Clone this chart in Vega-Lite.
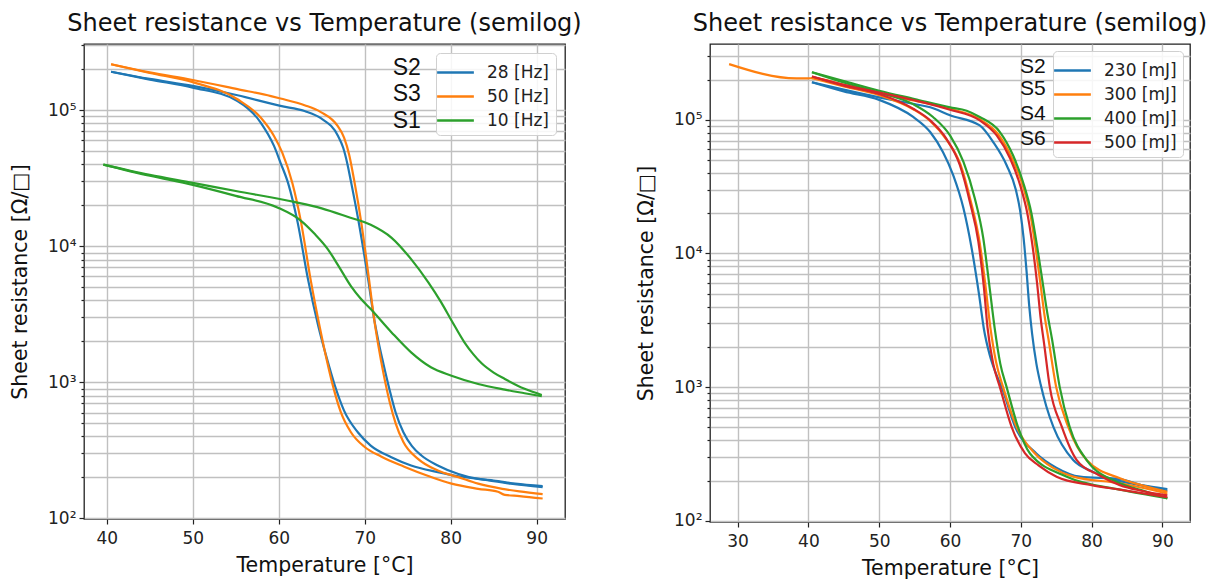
{
  "$schema": "https://vega.github.io/schema/vega-lite/v6.json",
  "padding": {"left": 9, "top": 11, "right": 5, "bottom": 0},
  "bounds": "flush",
  "spacing": 145,
  "config": {
    "font": "DejaVu Sans",
    "view": {"stroke": "#222222", "strokeWidth": 1.3},
    "axis": {"labelFont": "DejaVu Sans", "labelFontSize": 17, "labelColor": "#222222", "titleFont": "DejaVu Sans", "titleFontSize": 20.5, "titleFontWeight": "normal", "titleColor": "#111111", "gridColor": "#c0c0c0", "gridWidth": 1.4, "gridOpacity": 1, "domain": false, "tickColor": "#222222", "tickWidth": 1.2},
    "title": {"fontSize": 24, "fontWeight": "normal", "font": "DejaVu Sans", "color": "#111111", "offset": 8},
    "legend": {"orient": "top-right", "offset": 8, "fillColor": "rgba(255,255,255,0.85)", "strokeColor": "#d0d0d0", "cornerRadius": 4, "padding": 6, "labelFont": "DejaVu Sans", "labelFontSize": 17, "labelColor": "#222222", "symbolType": "M-1.5,0H1.5", "symbolSize": 600, "symbolStrokeWidth": 2.5, "labelOffset": 18, "rowPadding": 2}
  },
  "datasets": {
    "left": [
      {"series": "28 [Hz]", "branch": "A", "temp": 40.5, "rs": 192000},
      {"series": "28 [Hz]", "branch": "A", "temp": 45, "rs": 170000},
      {"series": "28 [Hz]", "branch": "A", "temp": 50, "rs": 151000},
      {"series": "28 [Hz]", "branch": "A", "temp": 55.2, "rs": 129000},
      {"series": "28 [Hz]", "branch": "A", "temp": 60.2, "rs": 107600},
      {"series": "28 [Hz]", "branch": "A", "temp": 63, "rs": 98800},
      {"series": "28 [Hz]", "branch": "A", "temp": 64.9, "rs": 87400},
      {"series": "28 [Hz]", "branch": "A", "temp": 66.9, "rs": 64700},
      {"series": "28 [Hz]", "branch": "A", "temp": 67.5, "rs": 53000},
      {"series": "28 [Hz]", "branch": "A", "temp": 68.0, "rs": 40000},
      {"series": "28 [Hz]", "branch": "A", "temp": 68.4, "rs": 30000},
      {"series": "28 [Hz]", "branch": "A", "temp": 69.3, "rs": 15100},
      {"series": "28 [Hz]", "branch": "A", "temp": 70.4, "rs": 5740},
      {"series": "28 [Hz]", "branch": "A", "temp": 71.1, "rs": 2920},
      {"series": "28 [Hz]", "branch": "A", "temp": 71.6, "rs": 2000},
      {"series": "28 [Hz]", "branch": "A", "temp": 72.2, "rs": 1350},
      {"series": "28 [Hz]", "branch": "A", "temp": 72.9, "rs": 880},
      {"series": "28 [Hz]", "branch": "A", "temp": 73.6, "rs": 600},
      {"series": "28 [Hz]", "branch": "A", "temp": 74.5, "rs": 430},
      {"series": "28 [Hz]", "branch": "A", "temp": 75.5, "rs": 340},
      {"series": "28 [Hz]", "branch": "A", "temp": 76.6, "rs": 290},
      {"series": "28 [Hz]", "branch": "A", "temp": 78.5, "rs": 245},
      {"series": "28 [Hz]", "branch": "A", "temp": 80.9, "rs": 212},
      {"series": "28 [Hz]", "branch": "A", "temp": 83.2, "rs": 195},
      {"series": "28 [Hz]", "branch": "A", "temp": 85, "rs": 190},
      {"series": "28 [Hz]", "branch": "A", "temp": 87.5, "rs": 180},
      {"series": "28 [Hz]", "branch": "A", "temp": 90.7, "rs": 173},
      {"series": "28 [Hz]", "branch": "B", "temp": 40.5, "rs": 192000},
      {"series": "28 [Hz]", "branch": "B", "temp": 45, "rs": 168000},
      {"series": "28 [Hz]", "branch": "B", "temp": 50, "rs": 146800},
      {"series": "28 [Hz]", "branch": "B", "temp": 55.2, "rs": 117000},
      {"series": "28 [Hz]", "branch": "B", "temp": 57.9, "rs": 81300},
      {"series": "28 [Hz]", "branch": "B", "temp": 59.45, "rs": 54700},
      {"series": "28 [Hz]", "branch": "B", "temp": 60.2, "rs": 41300},
      {"series": "28 [Hz]", "branch": "B", "temp": 61.1, "rs": 29000},
      {"series": "28 [Hz]", "branch": "B", "temp": 62.2, "rs": 15000},
      {"series": "28 [Hz]", "branch": "B", "temp": 63.4, "rs": 5740},
      {"series": "28 [Hz]", "branch": "B", "temp": 64.6, "rs": 2600},
      {"series": "28 [Hz]", "branch": "B", "temp": 65.6, "rs": 1500},
      {"series": "28 [Hz]", "branch": "B", "temp": 66.5, "rs": 960},
      {"series": "28 [Hz]", "branch": "B", "temp": 67.6, "rs": 620},
      {"series": "28 [Hz]", "branch": "B", "temp": 69.2, "rs": 430},
      {"series": "28 [Hz]", "branch": "B", "temp": 70.7, "rs": 343},
      {"series": "28 [Hz]", "branch": "B", "temp": 73.1, "rs": 282},
      {"series": "28 [Hz]", "branch": "B", "temp": 75.4, "rs": 245},
      {"series": "28 [Hz]", "branch": "B", "temp": 78.5, "rs": 219},
      {"series": "28 [Hz]", "branch": "B", "temp": 80.9, "rs": 204},
      {"series": "28 [Hz]", "branch": "B", "temp": 83.2, "rs": 195},
      {"series": "28 [Hz]", "branch": "B", "temp": 87, "rs": 180},
      {"series": "28 [Hz]", "branch": "B", "temp": 90.7, "rs": 170},
      {"series": "50 [Hz]", "branch": "A", "temp": 40.5, "rs": 218000},
      {"series": "50 [Hz]", "branch": "A", "temp": 45, "rs": 190000},
      {"series": "50 [Hz]", "branch": "A", "temp": 50, "rs": 167000},
      {"series": "50 [Hz]", "branch": "A", "temp": 55.2, "rs": 143000},
      {"series": "50 [Hz]", "branch": "A", "temp": 59.1, "rs": 127000},
      {"series": "50 [Hz]", "branch": "A", "temp": 60.2, "rs": 122000},
      {"series": "50 [Hz]", "branch": "A", "temp": 63, "rs": 109000},
      {"series": "50 [Hz]", "branch": "A", "temp": 64.9, "rs": 97000},
      {"series": "50 [Hz]", "branch": "A", "temp": 66.85, "rs": 76700},
      {"series": "50 [Hz]", "branch": "A", "temp": 67.6, "rs": 63000},
      {"series": "50 [Hz]", "branch": "A", "temp": 68.2, "rs": 47000},
      {"series": "50 [Hz]", "branch": "A", "temp": 68.8, "rs": 30000},
      {"series": "50 [Hz]", "branch": "A", "temp": 69.6, "rs": 15000},
      {"series": "50 [Hz]", "branch": "A", "temp": 70.5, "rs": 5740},
      {"series": "50 [Hz]", "branch": "A", "temp": 71.1, "rs": 2920},
      {"series": "50 [Hz]", "branch": "A", "temp": 71.6, "rs": 1850},
      {"series": "50 [Hz]", "branch": "A", "temp": 72.2, "rs": 1150},
      {"series": "50 [Hz]", "branch": "A", "temp": 72.9, "rs": 720},
      {"series": "50 [Hz]", "branch": "A", "temp": 73.6, "rs": 500},
      {"series": "50 [Hz]", "branch": "A", "temp": 74.5, "rs": 364},
      {"series": "50 [Hz]", "branch": "A", "temp": 76.2, "rs": 274},
      {"series": "50 [Hz]", "branch": "A", "temp": 78.5, "rs": 225},
      {"series": "50 [Hz]", "branch": "A", "temp": 80.9, "rs": 201},
      {"series": "50 [Hz]", "branch": "A", "temp": 83.2, "rs": 180},
      {"series": "50 [Hz]", "branch": "A", "temp": 86, "rs": 165},
      {"series": "50 [Hz]", "branch": "A", "temp": 88, "rs": 158},
      {"series": "50 [Hz]", "branch": "A", "temp": 90.7, "rs": 151},
      {"series": "50 [Hz]", "branch": "B", "temp": 40.5, "rs": 218000},
      {"series": "50 [Hz]", "branch": "B", "temp": 45, "rs": 188000},
      {"series": "50 [Hz]", "branch": "B", "temp": 50, "rs": 161000},
      {"series": "50 [Hz]", "branch": "B", "temp": 55.2, "rs": 120500},
      {"series": "50 [Hz]", "branch": "B", "temp": 57.9, "rs": 88400},
      {"series": "50 [Hz]", "branch": "B", "temp": 59.45, "rs": 64700},
      {"series": "50 [Hz]", "branch": "B", "temp": 60.4, "rs": 49000},
      {"series": "50 [Hz]", "branch": "B", "temp": 61.6, "rs": 29000},
      {"series": "50 [Hz]", "branch": "B", "temp": 62.6, "rs": 15000},
      {"series": "50 [Hz]", "branch": "B", "temp": 63.7, "rs": 5740},
      {"series": "50 [Hz]", "branch": "B", "temp": 64.8, "rs": 2500},
      {"series": "50 [Hz]", "branch": "B", "temp": 65.6, "rs": 1450},
      {"series": "50 [Hz]", "branch": "B", "temp": 66.3, "rs": 946},
      {"series": "50 [Hz]", "branch": "B", "temp": 67.2, "rs": 610},
      {"series": "50 [Hz]", "branch": "B", "temp": 68.4, "rs": 430},
      {"series": "50 [Hz]", "branch": "B", "temp": 70, "rs": 335},
      {"series": "50 [Hz]", "branch": "B", "temp": 71.9, "rs": 285},
      {"series": "50 [Hz]", "branch": "B", "temp": 74.6, "rs": 240},
      {"series": "50 [Hz]", "branch": "B", "temp": 77.4, "rs": 205},
      {"series": "50 [Hz]", "branch": "B", "temp": 80.1, "rs": 180},
      {"series": "50 [Hz]", "branch": "B", "temp": 83.2, "rs": 165},
      {"series": "50 [Hz]", "branch": "B", "temp": 85.5, "rs": 157},
      {"series": "50 [Hz]", "branch": "B", "temp": 86.3, "rs": 149},
      {"series": "50 [Hz]", "branch": "B", "temp": 88, "rs": 146},
      {"series": "50 [Hz]", "branch": "B", "temp": 90.7, "rs": 140},
      {"series": "10 [Hz]", "branch": "A", "temp": 39.6, "rs": 39900},
      {"series": "10 [Hz]", "branch": "A", "temp": 45, "rs": 33500},
      {"series": "10 [Hz]", "branch": "A", "temp": 50, "rs": 29300},
      {"series": "10 [Hz]", "branch": "A", "temp": 55, "rs": 25500},
      {"series": "10 [Hz]", "branch": "A", "temp": 61.8, "rs": 21200},
      {"series": "10 [Hz]", "branch": "A", "temp": 65, "rs": 19000},
      {"series": "10 [Hz]", "branch": "A", "temp": 68, "rs": 16500},
      {"series": "10 [Hz]", "branch": "A", "temp": 70.7, "rs": 14400},
      {"series": "10 [Hz]", "branch": "A", "temp": 73.1, "rs": 11600},
      {"series": "10 [Hz]", "branch": "A", "temp": 75.4, "rs": 8050},
      {"series": "10 [Hz]", "branch": "A", "temp": 77.4, "rs": 5430},
      {"series": "10 [Hz]", "branch": "A", "temp": 78.9, "rs": 3870},
      {"series": "10 [Hz]", "branch": "A", "temp": 80.1, "rs": 2850},
      {"series": "10 [Hz]", "branch": "A", "temp": 81.6, "rs": 1970},
      {"series": "10 [Hz]", "branch": "A", "temp": 82.6, "rs": 1620},
      {"series": "10 [Hz]", "branch": "A", "temp": 83.6, "rs": 1380},
      {"series": "10 [Hz]", "branch": "A", "temp": 85, "rs": 1180},
      {"series": "10 [Hz]", "branch": "A", "temp": 86.3, "rs": 1060},
      {"series": "10 [Hz]", "branch": "A", "temp": 88.6, "rs": 896},
      {"series": "10 [Hz]", "branch": "A", "temp": 90.6, "rs": 808},
      {"series": "10 [Hz]", "branch": "B", "temp": 39.6, "rs": 39900},
      {"series": "10 [Hz]", "branch": "B", "temp": 45, "rs": 33000},
      {"series": "10 [Hz]", "branch": "B", "temp": 50, "rs": 28300},
      {"series": "10 [Hz]", "branch": "B", "temp": 55, "rs": 23500},
      {"series": "10 [Hz]", "branch": "B", "temp": 59.85, "rs": 19300},
      {"series": "10 [Hz]", "branch": "B", "temp": 62.6, "rs": 15400},
      {"series": "10 [Hz]", "branch": "B", "temp": 64.2, "rs": 12300},
      {"series": "10 [Hz]", "branch": "B", "temp": 65.7, "rs": 9550},
      {"series": "10 [Hz]", "branch": "B", "temp": 67.0, "rs": 7100},
      {"series": "10 [Hz]", "branch": "B", "temp": 68.4, "rs": 5100},
      {"series": "10 [Hz]", "branch": "B", "temp": 69.5, "rs": 4150},
      {"series": "10 [Hz]", "branch": "B", "temp": 70.7, "rs": 3460},
      {"series": "10 [Hz]", "branch": "B", "temp": 73.1, "rs": 2340},
      {"series": "10 [Hz]", "branch": "B", "temp": 75.4, "rs": 1660},
      {"series": "10 [Hz]", "branch": "B", "temp": 77.7, "rs": 1290},
      {"series": "10 [Hz]", "branch": "B", "temp": 80.1, "rs": 1120},
      {"series": "10 [Hz]", "branch": "B", "temp": 83.2, "rs": 973},
      {"series": "10 [Hz]", "branch": "B", "temp": 86.3, "rs": 884},
      {"series": "10 [Hz]", "branch": "B", "temp": 88.6, "rs": 832},
      {"series": "10 [Hz]", "branch": "B", "temp": 90.6, "rs": 790}
    ],
    "right": [
      {"series": "230 [mJ]", "branch": "A", "temp": 40.5, "rs": 191000},
      {"series": "230 [mJ]", "branch": "A", "temp": 45, "rs": 168000},
      {"series": "230 [mJ]", "branch": "A", "temp": 50, "rs": 147000},
      {"series": "230 [mJ]", "branch": "A", "temp": 55, "rs": 131000},
      {"series": "230 [mJ]", "branch": "A", "temp": 57.2, "rs": 124000},
      {"series": "230 [mJ]", "branch": "A", "temp": 60, "rs": 108000},
      {"series": "230 [mJ]", "branch": "A", "temp": 64.2, "rs": 90700},
      {"series": "230 [mJ]", "branch": "A", "temp": 66.1, "rs": 68200},
      {"series": "230 [mJ]", "branch": "A", "temp": 68, "rs": 45700},
      {"series": "230 [mJ]", "branch": "A", "temp": 69.3, "rs": 30000},
      {"series": "230 [mJ]", "branch": "A", "temp": 69.9, "rs": 21000},
      {"series": "230 [mJ]", "branch": "A", "temp": 70.4, "rs": 13000},
      {"series": "230 [mJ]", "branch": "A", "temp": 70.8, "rs": 7500},
      {"series": "230 [mJ]", "branch": "A", "temp": 71.2, "rs": 4000},
      {"series": "230 [mJ]", "branch": "A", "temp": 71.6, "rs": 2500},
      {"series": "230 [mJ]", "branch": "A", "temp": 72.2, "rs": 1500},
      {"series": "230 [mJ]", "branch": "A", "temp": 72.8, "rs": 1050},
      {"series": "230 [mJ]", "branch": "A", "temp": 73.6, "rs": 720},
      {"series": "230 [mJ]", "branch": "A", "temp": 74.6, "rs": 505},
      {"series": "230 [mJ]", "branch": "A", "temp": 77.4, "rs": 285},
      {"series": "230 [mJ]", "branch": "A", "temp": 80, "rs": 235},
      {"series": "230 [mJ]", "branch": "A", "temp": 84, "rs": 198},
      {"series": "230 [mJ]", "branch": "A", "temp": 87, "rs": 185},
      {"series": "230 [mJ]", "branch": "A", "temp": 90.7, "rs": 173},
      {"series": "230 [mJ]", "branch": "B", "temp": 40.5, "rs": 191000},
      {"series": "230 [mJ]", "branch": "B", "temp": 45, "rs": 163000},
      {"series": "230 [mJ]", "branch": "B", "temp": 50, "rs": 141000},
      {"series": "230 [mJ]", "branch": "B", "temp": 54.8, "rs": 105000},
      {"series": "230 [mJ]", "branch": "B", "temp": 57.2, "rs": 81000},
      {"series": "230 [mJ]", "branch": "B", "temp": 59, "rs": 57500},
      {"series": "230 [mJ]", "branch": "B", "temp": 60.45, "rs": 38600},
      {"series": "230 [mJ]", "branch": "B", "temp": 61.9, "rs": 21800},
      {"series": "230 [mJ]", "branch": "B", "temp": 63.05, "rs": 11000},
      {"series": "230 [mJ]", "branch": "B", "temp": 64.1, "rs": 4940},
      {"series": "230 [mJ]", "branch": "B", "temp": 64.8, "rs": 2700},
      {"series": "230 [mJ]", "branch": "B", "temp": 65.6, "rs": 1750},
      {"series": "230 [mJ]", "branch": "B", "temp": 66.4, "rs": 1300},
      {"series": "230 [mJ]", "branch": "B", "temp": 67.3, "rs": 1000},
      {"series": "230 [mJ]", "branch": "B", "temp": 69.2, "rs": 505},
      {"series": "230 [mJ]", "branch": "B", "temp": 72.2, "rs": 319},
      {"series": "230 [mJ]", "branch": "B", "temp": 75, "rs": 250},
      {"series": "230 [mJ]", "branch": "B", "temp": 78.35, "rs": 214},
      {"series": "230 [mJ]", "branch": "B", "temp": 84, "rs": 205},
      {"series": "230 [mJ]", "branch": "B", "temp": 87, "rs": 185},
      {"series": "230 [mJ]", "branch": "B", "temp": 90.7, "rs": 168},
      {"series": "300 [mJ]", "branch": "A", "temp": 28.8, "rs": 261000},
      {"series": "300 [mJ]", "branch": "A", "temp": 38.3, "rs": 204000},
      {"series": "300 [mJ]", "branch": "A", "temp": 40, "rs": 204000},
      {"series": "300 [mJ]", "branch": "A", "temp": 40.5, "rs": 205000},
      {"series": "300 [mJ]", "branch": "A", "temp": 45, "rs": 183000},
      {"series": "300 [mJ]", "branch": "A", "temp": 50, "rs": 158000},
      {"series": "300 [mJ]", "branch": "A", "temp": 55, "rs": 139000},
      {"series": "300 [mJ]", "branch": "A", "temp": 60, "rs": 121000},
      {"series": "300 [mJ]", "branch": "A", "temp": 64.2, "rs": 101000},
      {"series": "300 [mJ]", "branch": "A", "temp": 66.8, "rs": 78000},
      {"series": "300 [mJ]", "branch": "A", "temp": 68.8, "rs": 51000},
      {"series": "300 [mJ]", "branch": "A", "temp": 70.3, "rs": 32000},
      {"series": "300 [mJ]", "branch": "A", "temp": 71.4, "rs": 19000},
      {"series": "300 [mJ]", "branch": "A", "temp": 72.2, "rs": 10000},
      {"series": "300 [mJ]", "branch": "A", "temp": 72.8, "rs": 5800},
      {"series": "300 [mJ]", "branch": "A", "temp": 73.3, "rs": 3600},
      {"series": "300 [mJ]", "branch": "A", "temp": 73.9, "rs": 2300},
      {"series": "300 [mJ]", "branch": "A", "temp": 75, "rs": 1000},
      {"series": "300 [mJ]", "branch": "A", "temp": 76.7, "rs": 505},
      {"series": "300 [mJ]", "branch": "A", "temp": 79.3, "rs": 285},
      {"series": "300 [mJ]", "branch": "A", "temp": 84, "rs": 208},
      {"series": "300 [mJ]", "branch": "A", "temp": 87, "rs": 185},
      {"series": "300 [mJ]", "branch": "A", "temp": 90.7, "rs": 165},
      {"series": "300 [mJ]", "branch": "B", "temp": 40.5, "rs": 205000},
      {"series": "300 [mJ]", "branch": "B", "temp": 45, "rs": 178000},
      {"series": "300 [mJ]", "branch": "B", "temp": 50, "rs": 153000},
      {"series": "300 [mJ]", "branch": "B", "temp": 54.8, "rs": 120000},
      {"series": "300 [mJ]", "branch": "B", "temp": 57.2, "rs": 98000},
      {"series": "300 [mJ]", "branch": "B", "temp": 59.5, "rs": 71000},
      {"series": "300 [mJ]", "branch": "B", "temp": 61.5, "rs": 46000},
      {"series": "300 [mJ]", "branch": "B", "temp": 62.9, "rs": 25000},
      {"series": "300 [mJ]", "branch": "B", "temp": 64.2, "rs": 12000},
      {"series": "300 [mJ]", "branch": "B", "temp": 65.0, "rs": 5800},
      {"series": "300 [mJ]", "branch": "B", "temp": 65.7, "rs": 2800},
      {"series": "300 [mJ]", "branch": "B", "temp": 66.5, "rs": 1550},
      {"series": "300 [mJ]", "branch": "B", "temp": 67.5, "rs": 1000},
      {"series": "300 [mJ]", "branch": "B", "temp": 69.4, "rs": 505},
      {"series": "300 [mJ]", "branch": "B", "temp": 72, "rs": 319},
      {"series": "300 [mJ]", "branch": "B", "temp": 74.5, "rs": 250},
      {"series": "300 [mJ]", "branch": "B", "temp": 77.4, "rs": 214},
      {"series": "300 [mJ]", "branch": "B", "temp": 84, "rs": 191},
      {"series": "300 [mJ]", "branch": "B", "temp": 90.7, "rs": 160},
      {"series": "400 [mJ]", "branch": "A", "temp": 40.5, "rs": 227000},
      {"series": "400 [mJ]", "branch": "A", "temp": 45, "rs": 195000},
      {"series": "400 [mJ]", "branch": "A", "temp": 50, "rs": 165000},
      {"series": "400 [mJ]", "branch": "A", "temp": 55, "rs": 143000},
      {"series": "400 [mJ]", "branch": "A", "temp": 60, "rs": 124000},
      {"series": "400 [mJ]", "branch": "A", "temp": 62.35, "rs": 117000},
      {"series": "400 [mJ]", "branch": "A", "temp": 64.2, "rs": 105000},
      {"series": "400 [mJ]", "branch": "A", "temp": 67.05, "rs": 81000},
      {"series": "400 [mJ]", "branch": "A", "temp": 68.9, "rs": 54300},
      {"series": "400 [mJ]", "branch": "A", "temp": 70.3, "rs": 34400},
      {"series": "400 [mJ]", "branch": "A", "temp": 71.5, "rs": 20000},
      {"series": "400 [mJ]", "branch": "A", "temp": 72.4, "rs": 10500},
      {"series": "400 [mJ]", "branch": "A", "temp": 73.1, "rs": 6000},
      {"series": "400 [mJ]", "branch": "A", "temp": 73.7, "rs": 3700},
      {"series": "400 [mJ]", "branch": "A", "temp": 74.4, "rs": 2300},
      {"series": "400 [mJ]", "branch": "A", "temp": 75.5, "rs": 1000},
      {"series": "400 [mJ]", "branch": "A", "temp": 76.9, "rs": 505},
      {"series": "400 [mJ]", "branch": "A", "temp": 79.3, "rs": 285},
      {"series": "400 [mJ]", "branch": "A", "temp": 84, "rs": 191},
      {"series": "400 [mJ]", "branch": "A", "temp": 87, "rs": 170},
      {"series": "400 [mJ]", "branch": "A", "temp": 90.7, "rs": 147},
      {"series": "400 [mJ]", "branch": "B", "temp": 40.5, "rs": 227000},
      {"series": "400 [mJ]", "branch": "B", "temp": 45, "rs": 190000},
      {"series": "400 [mJ]", "branch": "B", "temp": 50, "rs": 160000},
      {"series": "400 [mJ]", "branch": "B", "temp": 54.8, "rs": 131000},
      {"series": "400 [mJ]", "branch": "B", "temp": 57.6, "rs": 105000},
      {"series": "400 [mJ]", "branch": "B", "temp": 60, "rs": 76400},
      {"series": "400 [mJ]", "branch": "B", "temp": 61.9, "rs": 48400},
      {"series": "400 [mJ]", "branch": "B", "temp": 63.5, "rs": 25900},
      {"series": "400 [mJ]", "branch": "B", "temp": 64.7, "rs": 13000},
      {"series": "400 [mJ]", "branch": "B", "temp": 65.6, "rs": 5530},
      {"series": "400 [mJ]", "branch": "B", "temp": 66.3, "rs": 2790},
      {"series": "400 [mJ]", "branch": "B", "temp": 67.1, "rs": 1500},
      {"series": "400 [mJ]", "branch": "B", "temp": 68, "rs": 1000},
      {"series": "400 [mJ]", "branch": "B", "temp": 69.6, "rs": 505},
      {"series": "400 [mJ]", "branch": "B", "temp": 71.3, "rs": 319},
      {"series": "400 [mJ]", "branch": "B", "temp": 76.5, "rs": 214},
      {"series": "400 [mJ]", "branch": "B", "temp": 84, "rs": 171},
      {"series": "400 [mJ]", "branch": "B", "temp": 90.7, "rs": 148},
      {"series": "500 [mJ]", "branch": "A", "temp": 40.5, "rs": 211000},
      {"series": "500 [mJ]", "branch": "A", "temp": 45, "rs": 183000},
      {"series": "500 [mJ]", "branch": "A", "temp": 50, "rs": 160000},
      {"series": "500 [mJ]", "branch": "A", "temp": 55, "rs": 140000},
      {"series": "500 [mJ]", "branch": "A", "temp": 60, "rs": 119000},
      {"series": "500 [mJ]", "branch": "A", "temp": 64.2, "rs": 99000},
      {"series": "500 [mJ]", "branch": "A", "temp": 66.6, "rs": 76400},
      {"series": "500 [mJ]", "branch": "A", "temp": 68.5, "rs": 51300},
      {"series": "500 [mJ]", "branch": "A", "temp": 69.9, "rs": 32500},
      {"series": "500 [mJ]", "branch": "A", "temp": 71.0, "rs": 19000},
      {"series": "500 [mJ]", "branch": "A", "temp": 71.8, "rs": 10000},
      {"series": "500 [mJ]", "branch": "A", "temp": 72.3, "rs": 6000},
      {"series": "500 [mJ]", "branch": "A", "temp": 72.8, "rs": 3300},
      {"series": "500 [mJ]", "branch": "A", "temp": 73.3, "rs": 2100},
      {"series": "500 [mJ]", "branch": "A", "temp": 74.1, "rs": 1000},
      {"series": "500 [mJ]", "branch": "A", "temp": 75.8, "rs": 505},
      {"series": "500 [mJ]", "branch": "A", "temp": 77.9, "rs": 285},
      {"series": "500 [mJ]", "branch": "A", "temp": 81, "rs": 220},
      {"series": "500 [mJ]", "branch": "A", "temp": 84, "rs": 185},
      {"series": "500 [mJ]", "branch": "A", "temp": 87, "rs": 168},
      {"series": "500 [mJ]", "branch": "A", "temp": 90.7, "rs": 155},
      {"series": "500 [mJ]", "branch": "B", "temp": 40.5, "rs": 211000},
      {"series": "500 [mJ]", "branch": "B", "temp": 45, "rs": 180000},
      {"series": "500 [mJ]", "branch": "B", "temp": 50, "rs": 156000},
      {"series": "500 [mJ]", "branch": "B", "temp": 54.8, "rs": 121000},
      {"series": "500 [mJ]", "branch": "B", "temp": 57.2, "rs": 99000},
      {"series": "500 [mJ]", "branch": "B", "temp": 59.5, "rs": 72000},
      {"series": "500 [mJ]", "branch": "B", "temp": 61.4, "rs": 45700},
      {"series": "500 [mJ]", "branch": "B", "temp": 62.8, "rs": 24400},
      {"series": "500 [mJ]", "branch": "B", "temp": 64, "rs": 12300},
      {"series": "500 [mJ]", "branch": "B", "temp": 64.8, "rs": 5500},
      {"series": "500 [mJ]", "branch": "B", "temp": 65.3, "rs": 2790},
      {"series": "500 [mJ]", "branch": "B", "temp": 66.1, "rs": 1500},
      {"series": "500 [mJ]", "branch": "B", "temp": 67.05, "rs": 1000},
      {"series": "500 [mJ]", "branch": "B", "temp": 68.7, "rs": 505},
      {"series": "500 [mJ]", "branch": "B", "temp": 70.6, "rs": 319},
      {"series": "500 [mJ]", "branch": "B", "temp": 72.5, "rs": 260},
      {"series": "500 [mJ]", "branch": "B", "temp": 75.05, "rs": 214},
      {"series": "500 [mJ]", "branch": "B", "temp": 80, "rs": 185},
      {"series": "500 [mJ]", "branch": "B", "temp": 84, "rs": 171},
      {"series": "500 [mJ]", "branch": "B", "temp": 90.7, "rs": 150}
    ],
    "leftLabels": [
      {"label": "S2", "temp": 74.9, "rs": 205000},
      {"label": "S3", "temp": 74.9, "rs": 131000},
      {"label": "S1", "temp": 74.9, "rs": 83400}
    ],
    "rightLabels": [
      {"label": "S2", "temp": 71.7, "rs": 250000},
      {"label": "S5", "temp": 71.7, "rs": 170000},
      {"label": "S4", "temp": 71.7, "rs": 110000},
      {"label": "S6", "temp": 71.7, "rs": 72000}
    ]
  },
  "hconcat": [
    {
      "width": 481,
      "height": 475,
      "title": "Sheet resistance vs Temperature (semilog)",
      "layer": [
        {
          "data": {"name": "left"},
          "mark": {"type": "line", "strokeWidth": 2.2, "interpolate": "monotone", "clip": true},
          "encoding": {
            "x": {"field": "temp", "type": "quantitative", "scale": {"domain": [37.35, 93.3], "nice": false, "zero": false}, "axis": {"title": "Temperature [°C]", "values": [40, 50, 60, 70, 80, 90], "tickSize": 5, "labelPadding": 6, "labelFlush": false, "titlePadding": 9}},
            "y": {"field": "rs", "type": "quantitative", "scale": {"type": "log", "domain": [99, 307000], "nice": false}, "axis": {"title": "Sheet resistance [Ω/□]", "values": [100, 200, 300, 400, 500, 600, 700, 800, 900, 1000, 2000, 3000, 4000, 5000, 6000, 7000, 8000, 9000, 10000, 20000, 30000, 40000, 50000, 60000, 70000, 80000, 90000, 100000, 200000, 300000], "labelExpr": "datum.value == 100 ? '10²' : datum.value == 1000 ? '10³' : datum.value == 10000 ? '10⁴' : datum.value == 100000 ? '10⁵' : ''", "tickSize": {"condition": {"test": "datum.value == 100 || datum.value == 1000 || datum.value == 10000 || datum.value == 100000", "value": 5}, "value": 3}, "labelPadding": 3, "labelFlush": false, "titlePadding": 17}},
            "color": {"field": "series", "type": "nominal", "scale": {"domain": ["28 [Hz]", "50 [Hz]", "10 [Hz]"], "range": ["#1f77b4", "#ff7f0e", "#2ca02c"]}, "legend": {"title": null, "offset": 9}},
            "detail": {"field": "branch"}
          }
        },
        {
          "data": {"name": "leftLabels"},
          "mark": {"type": "text", "fontSize": 23, "font": "Liberation Sans Narrow, Liberation Sans, sans-serif", "color": "#111111", "align": "center", "baseline": "middle"},
          "encoding": {
            "x": {"field": "temp", "type": "quantitative"},
            "y": {"field": "rs", "type": "quantitative"},
            "text": {"field": "label"}
          }
        }
      ]
    },
    {
      "width": 480,
      "height": 478,
      "title": "Sheet resistance vs Temperature (semilog)",
      "layer": [
        {
          "data": {"name": "right"},
          "mark": {"type": "line", "strokeWidth": 2.2, "interpolate": "monotone", "clip": true},
          "encoding": {
            "x": {"field": "temp", "type": "quantitative", "scale": {"domain": [26.1, 93.9], "nice": false, "zero": false}, "axis": {"title": "Temperature [°C]", "values": [30, 40, 50, 60, 70, 80, 90], "tickSize": 5, "labelPadding": 6, "labelFlush": false, "titlePadding": 9}},
            "y": {"field": "rs", "type": "quantitative", "scale": {"type": "log", "domain": [98, 369000], "nice": false}, "axis": {"title": "Sheet resistance [Ω/□]", "values": [100, 200, 300, 400, 500, 600, 700, 800, 900, 1000, 2000, 3000, 4000, 5000, 6000, 7000, 8000, 9000, 10000, 20000, 30000, 40000, 50000, 60000, 70000, 80000, 90000, 100000, 200000, 300000], "labelExpr": "datum.value == 100 ? '10²' : datum.value == 1000 ? '10³' : datum.value == 10000 ? '10⁴' : datum.value == 100000 ? '10⁵' : ''", "tickSize": {"condition": {"test": "datum.value == 100 || datum.value == 1000 || datum.value == 10000 || datum.value == 100000", "value": 5}, "value": 3}, "labelPadding": 3, "labelFlush": false, "titlePadding": 17}},
            "color": {"field": "series", "type": "nominal", "scale": {"domain": ["230 [mJ]", "300 [mJ]", "400 [mJ]", "500 [mJ]"], "range": ["#1f77b4", "#ff7f0e", "#2ca02c", "#d62728"]}, "legend": {"title": null, "offset": 7}},
            "detail": {"field": "branch"}
          }
        },
        {
          "data": {"name": "rightLabels"},
          "mark": {"type": "text", "fontSize": 21, "font": "Liberation Sans Narrow, Liberation Sans, sans-serif", "color": "#111111", "align": "center", "baseline": "middle"},
          "encoding": {
            "x": {"field": "temp", "type": "quantitative"},
            "y": {"field": "rs", "type": "quantitative"},
            "text": {"field": "label"}
          }
        }
      ]
    }
  ],
  "resolve": {"scale": {"color": "independent"}}
}
